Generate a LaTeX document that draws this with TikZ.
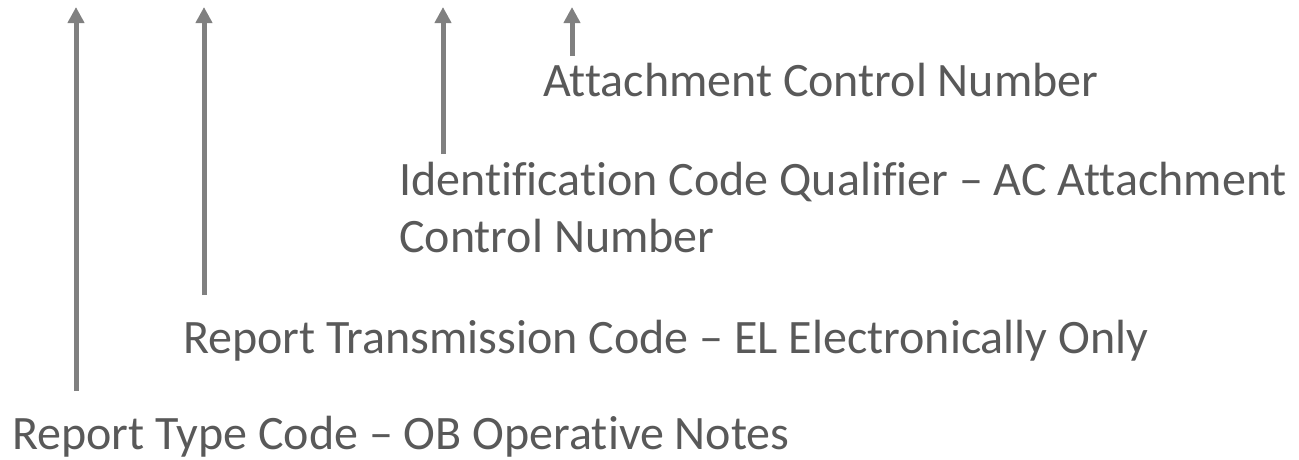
\documentclass[tikz,border=0pt]{standalone}
\usepackage{fontspec}
\setmainfont[Ligatures=NoCommon]{Carlito}
\usetikzlibrary{arrows.meta}
\definecolor{txtgray}{HTML}{595959}
\definecolor{arrgray}{HTML}{808080}
\tikzset{
  lbl/.style={anchor=base west, inner sep=0pt, text=txtgray, font=\fontsize{48}{57}\selectfont, align=left},
  uparrow/.style={draw=arrgray, line width=5pt, -{Triangle[width=16pt,length=16pt]}}
}
\begin{document}
\begin{tikzpicture}[x=1pt,y=-1pt]
\useasboundingbox (0,0) rectangle (1299,459);
% labels (base anchor = baseline of last line)
\node[lbl] (acn) at (543,96) {Attachment Control Number};
\node[lbl] (icq) at (399,252) {Identification Code Qualifier – AC Attachment\\Control Number};
\node[lbl] (rtc) at (183,353) {Report Transmission Code – EL Electronically Only};
\node[lbl] (rty) at (12,449) {Report Type Code – OB Operative Notes};
% arrow ends
\coordinate (a1b) at (76,391);
\coordinate (a1t) at (76,7);
\coordinate (a2b) at (204,295);
\coordinate (a2t) at (204,7);
\coordinate (a3b) at (443,154);
\coordinate (a3t) at (443,7);
\coordinate (a4b) at (572,56);
\coordinate (a4t) at (572,7);
\draw[uparrow] (a1b) -- (a1t);
\draw[uparrow] (a2b) -- (a2t);
\draw[uparrow] (a3b) -- (a3t);
\draw[uparrow] (a4b) -- (a4t);
\end{tikzpicture}
\end{document}
